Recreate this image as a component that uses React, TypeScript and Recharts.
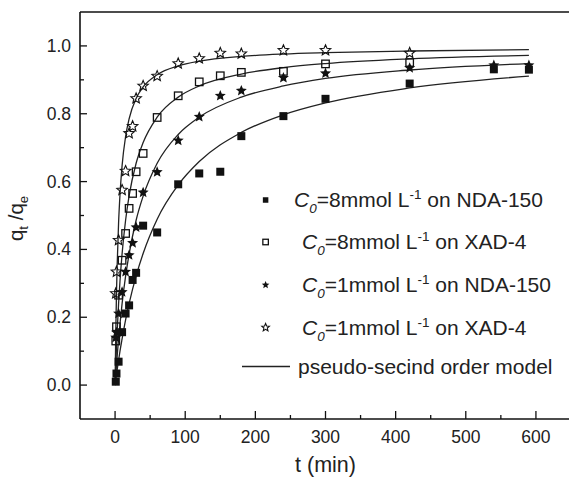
import React from "react";
import {
  ComposedChart,
  Line,
  Scatter,
  XAxis,
  YAxis,
  Legend,
  ReferenceLine,
} from "recharts";

// measured points, t in min, q = qt/qe
const tA = [1, 2, 5, 10, 15, 20, 25, 30, 40, 60, 90, 120, 150, 180, 240, 300, 420, 540, 590];
const qA = [0.01, 0.034, 0.069, 0.156, 0.211, 0.235, 0.31, 0.331, 0.47, 0.45, 0.592, 0.624, 0.629, 0.734, 0.793, 0.844, 0.889, 0.931, 0.93];

const tB = [1, 2, 5, 10, 15, 20, 25, 30, 40, 60, 90, 120, 150, 180, 240, 300, 420];
const qB = [0.13, 0.172, 0.265, 0.368, 0.447, 0.521, 0.565, 0.629, 0.683, 0.789, 0.853, 0.894, 0.912, 0.922, 0.925, 0.947, 0.951];

const tC = [1, 2, 5, 10, 15, 20, 25, 30, 40, 60, 90, 120, 150, 180, 240, 300, 420, 540, 590];
const qC = [0.14, 0.155, 0.211, 0.274, 0.334, 0.383, 0.419, 0.465, 0.568, 0.628, 0.721, 0.791, 0.853, 0.868, 0.906, 0.919, 0.935, 0.943, 0.943];

const tD = [1, 2, 5, 10, 15, 20, 25, 30, 40, 60, 90, 120, 150, 180, 240, 300, 420];
const qD = [0.27, 0.334, 0.427, 0.575, 0.631, 0.742, 0.763, 0.845, 0.882, 0.911, 0.948, 0.963, 0.979, 0.977, 0.987, 0.987, 0.979];

// model curves
const tFit = [0, 1, 2, 3, 5, 7, 10, 15, 20, 30, 40, 60, 90, 120, 180, 240, 300, 420, 590];
const fitA = [0, 0.016, 0.031, 0.046, 0.073, 0.1, 0.136, 0.192, 0.24, 0.322, 0.388, 0.489, 0.59, 0.659, 0.745, 0.797, 0.832, 0.876, 0.911];
const fitB = [0, 0.059, 0.112, 0.159, 0.24, 0.306, 0.387, 0.486, 0.558, 0.654, 0.715, 0.79, 0.849, 0.882, 0.917, 0.936, 0.948, 0.962, 0.972];
const fitC = [0, 0.031, 0.059, 0.086, 0.136, 0.18, 0.24, 0.321, 0.386, 0.486, 0.557, 0.654, 0.739, 0.79, 0.849, 0.882, 0.904, 0.929, 0.948];
const fitD = [0, 0.155, 0.269, 0.355, 0.478, 0.561, 0.647, 0.733, 0.785, 0.845, 0.879, 0.915, 0.941, 0.955, 0.969, 0.976, 0.98, 0.985, 0.989];

const xTicks = [0, 50, 100, 150, 200, 250, 300, 350, 400, 450, 500, 550, 600];
const yTicks = [0, 0.1, 0.2, 0.3, 0.4, 0.5, 0.6, 0.7, 0.8, 0.9, 1.0];

const zip = (t: number[], q: number[]) => t.map((v, i) => ({ t: v, q: q[i] }));

const INK = "#111";
const FONT = "'Liberation Sans', Arial, Helvetica, sans-serif";

function starPath(cx: number, cy: number, R: number) {
  const r = R * 0.45;
  let d = "";
  for (let i = 0; i < 10; i++) {
    const rad = i % 2 === 0 ? R : r;
    const a = -Math.PI / 2 + (i * Math.PI) / 5;
    d += (i === 0 ? "M" : "L") + (cx + rad * Math.cos(a)).toFixed(2) + "," + (cy + rad * Math.sin(a)).toFixed(2);
  }
  return d + "Z";
}

const FilledSquare = ({ cx, cy, s = 8 }: any) => (
  <rect x={cx - s / 2} y={cy - s / 2} width={s} height={s} fill={INK} />
);
const OpenSquare = ({ cx, cy, s = 7.5 }: any) => (
  <rect x={cx - s / 2} y={cy - s / 2} width={s} height={s} fill="none" stroke={INK} strokeWidth={1.3} />
);
const FilledStar = ({ cx, cy, s = 5.8 }: any) => <path d={starPath(cx, cy, s)} fill={INK} />;
const OpenStar = ({ cx, cy, s = 5.5 }: any) => (
  <path d={starPath(cx, cy, s)} fill="none" stroke={INK} strokeWidth={1.1} />
);

const XTick = (props: any) => {
  const { x, y, payload } = props;
  const major = payload.value % 100 === 0;
  return (
    <g>
      <line x1={x} x2={x} y1={y} y2={y - (major ? 8 : 4)} stroke={INK} strokeWidth={1.3} />
      {major && (
        <text x={x} y={y + 24} textAnchor="middle" fontSize={17.5} fill="#222" fontFamily={FONT}>
          {payload.value}
        </text>
      )}
    </g>
  );
};

const YTick = (props: any) => {
  const { x, y, payload } = props;
  const major = Math.round(payload.value * 10) % 2 === 0;
  return (
    <g>
      <line x1={x} x2={x + (major ? 7 : 4)} y1={y} y2={y} stroke={INK} strokeWidth={1.3} />
      {major && (
        <text x={x - 9} y={y + 6} textAnchor="end" fontSize={17.5} fill="#222" fontFamily={FONT}>
          {payload.value.toFixed(1)}
        </text>
      )}
    </g>
  );
};

const YTitle = (props: any) => {
  const vb = props.viewBox;
  const x = vb.x + 23;
  const y = vb.y + vb.height / 2 + 3;
  return (
    <text x={x} y={y} transform={`rotate(-90, ${x}, ${y})`} textAnchor="middle" fontSize={20.5} fill="#222" fontFamily={FONT}>
      q<tspan fontSize={13} dy={5}>t</tspan>
      <tspan dy={-5}> /q</tspan>
      <tspan fontSize={13} dy={5}>e</tspan>
    </text>
  );
};

const XTitle = (props: any) => {
  const vb = props.viewBox;
  return (
    <text x={vb.x + vb.width / 2} y={vb.y + 53} textAnchor="middle" fontSize={21.5} fill="#222" fontFamily={FONT}>
      t (min)
    </text>
  );
};

const legendRows = [
  { conc: "8", resin: "NDA-150", Marker: FilledSquare, size: 5.5, tx: 64 },
  { conc: "8", resin: "XAD-4", Marker: OpenSquare, size: 5.5, tx: 72 },
  { conc: "1", resin: "NDA-150", Marker: FilledStar, size: 4, tx: 72 },
  { conc: "1", resin: "XAD-4", Marker: OpenStar, size: 4, tx: 72 },
];
const rowY = [25, 67, 110, 152.5];

const LegendBox = () => (
  <svg width={340} height={215} style={{ display: "block", overflow: "visible" }} fontFamily={FONT}>
    {legendRows.map((r, i) => (
      <g key={i}>
        <r.Marker cx={35.6} cy={rowY[i]} s={r.size} />
        <text x={r.tx} y={rowY[i] + 7} fontSize={21} fill="#222">
          <tspan fontStyle="italic">C</tspan>
          <tspan fontStyle="italic" fontSize={13.5} dy={6}>0</tspan>
          <tspan dy={-6}>={r.conc}mmol L</tspan>
          <tspan fontSize={13.5} dy={-8}>-1</tspan>
          <tspan dy={8}> on {r.resin}</tspan>
        </text>
      </g>
    ))}
    <line x1={12} x2={60} y1={191.5} y2={191.5} stroke="#222" strokeWidth={1.3} />
    <text x={68} y={198.5} fontSize={21} fill="#222">
      pseudo-secind order model
    </text>
  </svg>
);

export default function App() {
  return (
    <div style={{ position: "absolute", left: 0, top: 0, width: 569, height: 477, overflow: "hidden", background: "#fff" }}>
      <ComposedChart
        width={580}
        height={477}
        margin={{ top: 12, right: 9, bottom: 0, left: 0 }}
        style={{ fontFamily: FONT }}
      >
        <XAxis
          dataKey="t"
          type="number"
          domain={[-50, 650]}
          ticks={xTicks}
          tick={<XTick />}
          tickSize={0}
          tickMargin={0}
          tickLine={false}
          axisLine={{ stroke: INK, strokeWidth: 1.6 }}
          height={58}
          allowDataOverflow
          label={(p: any) => <XTitle {...p} />}
        />
        <YAxis
          type="number"
          domain={[-0.1, 1.1]}
          ticks={yTicks}
          tick={<YTick />}
          tickSize={0}
          tickMargin={0}
          tickLine={false}
          axisLine={{ stroke: INK, strokeWidth: 1.6 }}
          width={80}
          allowDataOverflow
          label={(p: any) => <YTitle {...p} />}
        />
        <ReferenceLine y={1.1} stroke={INK} strokeWidth={1.6} />
        <Line data={zip(tFit, fitA)} dataKey="q" type="monotone" stroke="#222" strokeWidth={1.3} dot={false} isAnimationActive={false} legendType="none" />
        <Line data={zip(tFit, fitB)} dataKey="q" type="monotone" stroke="#222" strokeWidth={1.3} dot={false} isAnimationActive={false} legendType="none" />
        <Line data={zip(tFit, fitC)} dataKey="q" type="monotone" stroke="#222" strokeWidth={1.3} dot={false} isAnimationActive={false} legendType="none" />
        <Line data={zip(tFit, fitD)} dataKey="q" type="monotone" stroke="#222" strokeWidth={1.3} dot={false} isAnimationActive={false} legendType="none" />
        <Scatter data={zip(tA, qA)} dataKey="q" shape={(p: any) => <FilledSquare cx={p.cx} cy={p.cy} />} isAnimationActive={false} />
        <Scatter data={zip(tB, qB)} dataKey="q" shape={(p: any) => <OpenSquare cx={p.cx} cy={p.cy} />} isAnimationActive={false} />
        <Scatter data={zip(tC, qC)} dataKey="q" shape={(p: any) => <FilledStar cx={p.cx} cy={p.cy} />} isAnimationActive={false} />
        <Scatter data={zip(tD, qD)} dataKey="q" shape={(p: any) => <OpenStar cx={p.cx} cy={p.cy} />} isAnimationActive={false} />
        <Legend
          layout="horizontal"
          align="center"
          verticalAlign="middle"
          content={() => <LegendBox />}
          wrapperStyle={{ left: 230, top: 175, width: 340, height: 215 }}
        />
      </ComposedChart>
    </div>
  );
}
